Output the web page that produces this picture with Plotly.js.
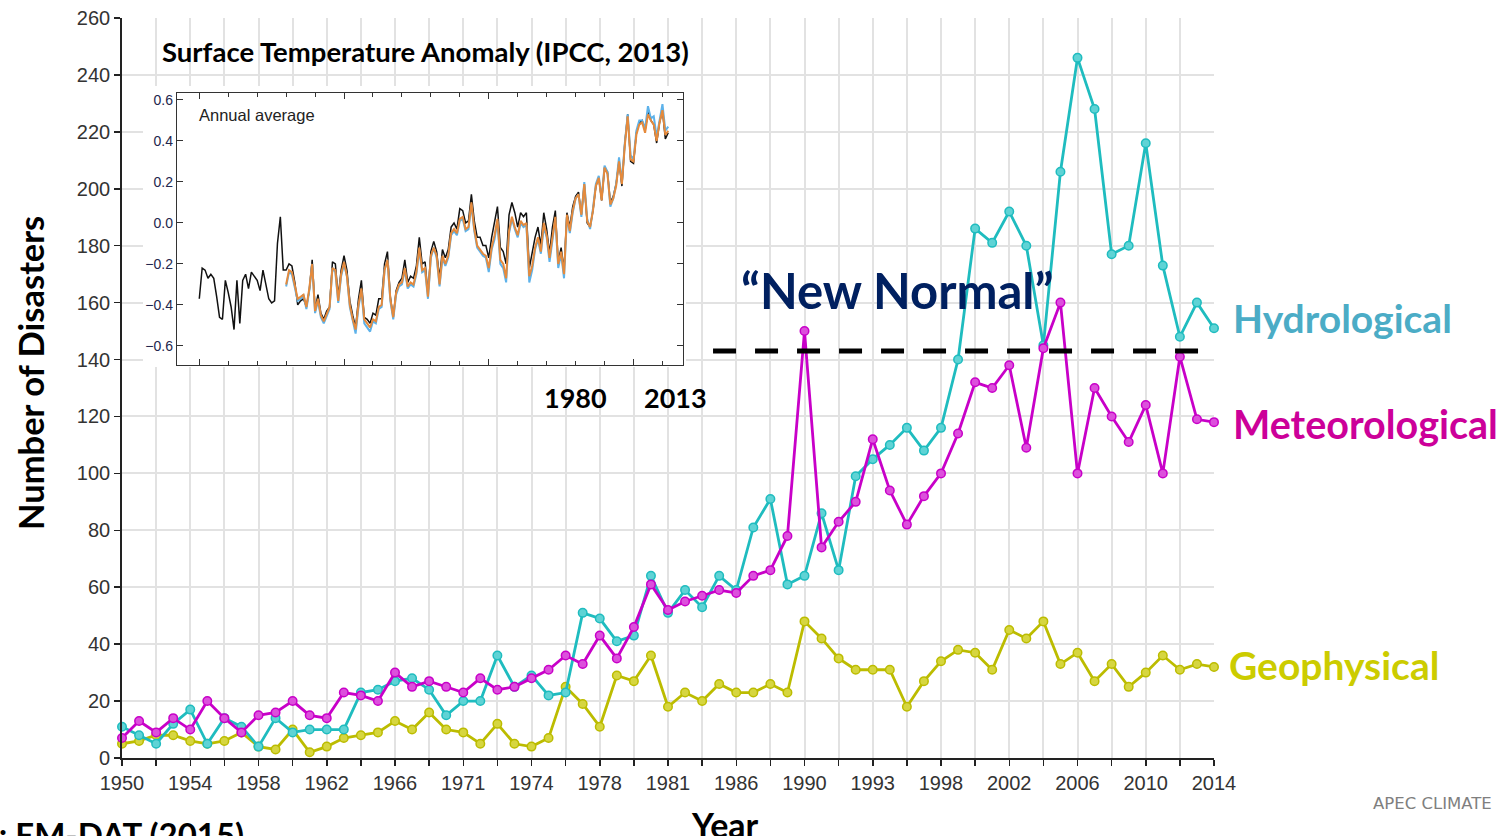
<!DOCTYPE html>
<html>
<head>
<meta charset="utf-8">
<script src="https://cdn.plot.ly/plotly-3.0.1.min.js"></script>
<style>html,body{margin:0;padding:0;background:#fff;}#chart{width:1509px;height:836px;}</style>
</head>
<body>
<div id="chart"></div>
<script>
// ---------------- Main chart data (EM-DAT disaster counts) ----------------
const xTickLabels = ['1950','1954','1958','1962','1966','1971','1974','1978','1981','1986','1990','1993','1998','2002','2006','2010','2014'];

const hydrological = [11,8,5,12,17,5,14,11,4,14,9,10,10,10,23,24,27,28,24,15,20,20,36,25,29,22,23,51,49,41,43,64,51,59,53,64,59,81,91,61,64,86,66,99,105,110,116,108,116,140,186,181,192,180,145,206,246,228,177,180,216,173,148,160,151];
const meteorological = [7,13,9,14,10,20,14,9,15,16,20,15,14,23,22,20,30,25,27,25,23,28,24,25,28,31,36,33,43,35,46,61,52,55,57,59,58,64,66,78,150,74,83,90,112,94,82,92,100,114,132,130,138,109,144,160,100,130,120,111,124,100,141,119,118];
const geophysical = [5,6,8,8,6,5,6,9,4,3,10,2,4,7,8,9,13,10,16,10,9,5,12,5,4,7,25,19,11,29,27,36,18,23,20,26,23,23,26,23,48,42,35,31,31,31,18,27,34,38,37,31,45,42,48,33,37,27,33,25,30,36,31,33,32];

const newNormalLevel = 143;

// ---------------- Inset data (surface temperature anomaly, deg C) ----------------
const insetBlackStart = 1850;
const insetBlack = [
 -0.37,-0.22,-0.23,-0.27,-0.25,-0.27,-0.36,-0.46,-0.47,-0.28,
 -0.34,-0.41,-0.52,-0.28,-0.49,-0.28,-0.25,-0.32,-0.24,-0.26,
 -0.28,-0.33,-0.23,-0.30,-0.37,-0.39,-0.38,-0.10,0.03,-0.23,
 -0.23,-0.20,-0.21,-0.29,-0.40,-0.38,-0.37,-0.41,-0.33,-0.18,
 -0.42,-0.35,-0.44,-0.47,-0.43,-0.41,-0.19,-0.20,-0.36,-0.23,
 -0.16,-0.23,-0.38,-0.45,-0.51,-0.37,-0.28,-0.46,-0.47,-0.49,
 -0.44,-0.45,-0.37,-0.37,-0.20,-0.14,-0.36,-0.46,-0.33,-0.29,
 -0.27,-0.18,-0.29,-0.26,-0.27,-0.21,-0.07,-0.20,-0.19,-0.35,
 -0.14,-0.09,-0.14,-0.27,-0.13,-0.17,-0.13,-0.02,0.00,-0.03,
 0.07,0.06,0.00,0.01,0.14,0.01,-0.07,-0.07,-0.11,-0.11,
 -0.17,-0.07,0.01,0.08,-0.12,-0.14,-0.20,0.04,0.10,0.05,
 -0.02,0.05,0.03,0.05,-0.22,-0.14,-0.07,-0.02,-0.11,0.05,
 -0.03,-0.15,-0.02,0.06,-0.19,-0.12,-0.23,0.05,-0.02,0.08,
 0.13,0.15,0.04,0.19,0.00,-0.02,0.06,0.18,0.22,0.11,
 0.27,0.25,0.10,0.13,0.19,0.30,0.18,0.39,0.53,0.30,
 0.29,0.44,0.49,0.50,0.45,0.54,0.50,0.48,0.39,0.49,
 0.55,0.41,0.44];

const insetColorStart = 1880;
const insetOrange = [
 -0.30,-0.23,-0.24,-0.31,-0.37,-0.36,-0.35,-0.41,-0.32,-0.20,
 -0.43,-0.37,-0.45,-0.48,-0.44,-0.41,-0.22,-0.23,-0.38,-0.25,
 -0.19,-0.26,-0.40,-0.47,-0.52,-0.40,-0.32,-0.47,-0.49,-0.51,
 -0.47,-0.48,-0.41,-0.40,-0.23,-0.18,-0.37,-0.46,-0.34,-0.30,
 -0.29,-0.22,-0.31,-0.29,-0.30,-0.24,-0.12,-0.23,-0.22,-0.36,
 -0.16,-0.12,-0.16,-0.30,-0.16,-0.20,-0.16,-0.05,-0.03,-0.05,
 0.02,0.03,-0.03,-0.02,0.10,-0.03,-0.11,-0.13,-0.15,-0.16,
 -0.22,-0.12,-0.06,0.02,-0.18,-0.20,-0.27,-0.04,0.03,-0.02,
 -0.06,0.01,-0.01,0.00,-0.26,-0.21,-0.12,-0.07,-0.14,0.00,
 -0.06,-0.17,-0.08,0.03,-0.20,-0.14,-0.25,0.04,-0.04,0.06,
 0.12,0.14,0.04,0.19,0.01,-0.02,0.06,0.18,0.22,0.11,
 0.27,0.24,0.09,0.12,0.18,0.30,0.19,0.38,0.52,0.31,
 0.30,0.43,0.48,0.49,0.44,0.53,0.50,0.48,0.40,0.49,
 0.55,0.43,0.45];
const insetBlue = [
 -0.31,-0.24,-0.25,-0.32,-0.38,-0.37,-0.35,-0.42,-0.33,-0.20,
 -0.44,-0.38,-0.46,-0.49,-0.45,-0.42,-0.22,-0.24,-0.39,-0.26,
 -0.20,-0.26,-0.41,-0.48,-0.54,-0.41,-0.33,-0.49,-0.51,-0.53,
 -0.48,-0.49,-0.42,-0.41,-0.23,-0.18,-0.38,-0.47,-0.35,-0.31,
 -0.30,-0.23,-0.32,-0.30,-0.31,-0.25,-0.13,-0.24,-0.23,-0.37,
 -0.17,-0.12,-0.17,-0.31,-0.17,-0.21,-0.17,-0.06,-0.04,-0.06,
 0.01,0.02,-0.04,-0.03,0.09,-0.04,-0.12,-0.14,-0.16,-0.17,
 -0.24,-0.13,-0.08,0.01,-0.20,-0.22,-0.29,-0.05,0.02,-0.03,
 -0.07,0.00,-0.02,-0.01,-0.29,-0.23,-0.13,-0.08,-0.15,-0.02,
 -0.07,-0.19,-0.09,0.02,-0.22,-0.15,-0.27,0.03,-0.05,0.05,
 0.12,0.14,0.03,0.20,0.02,-0.03,0.07,0.19,0.23,0.12,
 0.28,0.25,0.08,0.12,0.19,0.32,0.20,0.39,0.53,0.33,
 0.31,0.45,0.50,0.50,0.46,0.57,0.51,0.52,0.42,0.51,
 0.58,0.45,0.47];

// ---------------- Build ----------------
const idx = hydrological.map((_, i) => i);
const majorTickVals = xTickLabels.map((_, k) => k * 4);
const minorTickVals = majorTickVals.slice(0, -1).map(v => v + 2);
const yearsFrom = (start, arr) => arr.map((_, i) => start + i);

const HYD = '#1fbcbf', MET = '#c800c8', GEO = '#bcbc00';
function series(y, color, fill) {
  return {
    x: idx, y: y, type: 'scatter', mode: 'lines+markers', xaxis: 'x', yaxis: 'y',
    cliponaxis: false, hoverinfo: 'skip', showlegend: false,
    line: {color: color, width: 2.8},
    marker: {size: 8.5, color: fill, line: {color: color, width: 1.5}}
  };
}

const traces = [
  series(geophysical, GEO, '#d6d640'),
  series(hydrological, HYD, '#5fd3d5'),
  series(meteorological, MET, '#dc50dc'),
  // white backing panel for the inset (its own overlapping subplot)
  {x: [0.5], y: [0.5], xaxis: 'x2', yaxis: 'y2', type: 'scatter', mode: 'markers',
   marker: {opacity: 0}, hoverinfo: 'skip', showlegend: false},
  {x: yearsFrom(insetBlackStart, insetBlack), y: insetBlack, xaxis: 'x3', yaxis: 'y3', type: 'scatter', mode: 'lines',
   line: {color: '#111111', width: 1.5}, hoverinfo: 'skip', showlegend: false},
  {x: yearsFrom(insetColorStart, insetBlue), y: insetBlue, xaxis: 'x3', yaxis: 'y3', type: 'scatter', mode: 'lines',
   line: {color: '#5db2ea', width: 2}, hoverinfo: 'skip', showlegend: false},
  {x: yearsFrom(insetColorStart, insetOrange), y: insetOrange, xaxis: 'x3', yaxis: 'y3', type: 'scatter', mode: 'lines',
   line: {color: '#e58a3c', width: 2}, hoverinfo: 'skip', showlegend: false}
];

const W = 1509, H = 836, L = 122, R = 295, T = 18, B = 78;
const pw = W - L - R, ph = H - T - B;
const px = X => (X - L) / pw;
const py = Y => (H - B - Y) / ph;

const boldFont = 'Lato, "Noto Sans", sans-serif';
function note(text, X, Y, size, color, opts) {
  return Object.assign({
    text: text, xref: 'paper', yref: 'paper', x: px(X), y: py(Y),
    xanchor: 'center', yanchor: 'middle', showarrow: false,
    font: {family: boldFont, size: size, color: color, weight: 'bold'}
  }, opts || {});
}

const layout = {
  width: W, height: H,
  margin: {l: L, r: R, t: T, b: B, pad: 0},
  paper_bgcolor: '#ffffff', plot_bgcolor: '#ffffff',
  showlegend: false,
  xaxis: {
    domain: [0, 1], range: [0, 64], fixedrange: true,
    tickmode: 'array', tickvals: majorTickVals, ticktext: xTickLabels,
    ticks: 'outside', ticklen: 6, tickwidth: 1.5, tickcolor: '#222',
    showline: true, linecolor: '#222', linewidth: 1.8,
    showgrid: true, gridcolor: '#e2e2e2', gridwidth: 2,
    zeroline: false,
    tickfont: {family: '"Liberation Sans", Arial, sans-serif', size: 20, color: '#333'},
    minor: {tickmode: 'array', tickvals: minorTickVals, ticks: 'outside', ticklen: 6, tickwidth: 1.5, tickcolor: '#222',
            showgrid: true, gridcolor: '#e2e2e2', gridwidth: 2}
  },
  yaxis: {
    domain: [0, 1], range: [0, 260], fixedrange: true,
    tickmode: 'linear', tick0: 0, dtick: 20,
    ticks: 'outside', ticklen: 6, tickwidth: 1.5, tickcolor: '#222',
    showline: true, linecolor: '#222', linewidth: 1.8,
    showgrid: true, gridcolor: '#e2e2e2', gridwidth: 2, zeroline: false,
    tickfont: {family: '"Liberation Sans", Arial, sans-serif', size: 20, color: '#333'}
  },
  xaxis2: {domain: [px(143), px(686)], range: [0, 1], visible: false, anchor: 'y2', fixedrange: true},
  yaxis2: {domain: [py(367), py(86)], range: [0, 1], visible: false, anchor: 'x2', fixedrange: true},
  xaxis3: {
    domain: [px(177), px(683)], range: [1842.3, 2017.1], anchor: 'y3', fixedrange: true,
    showline: true, mirror: 'ticks', linecolor: '#333', linewidth: 1.2,
    ticks: 'inside', tickmode: 'linear', tick0: 1850, dtick: 50, ticklen: 6, tickcolor: '#333', tickwidth: 1,
    minor: {tickmode: 'linear', tick0: 1850, dtick: 10, ticks: 'inside', ticklen: 4, tickcolor: '#333', tickwidth: 1, showgrid: false},
    showticklabels: false, showgrid: false, zeroline: false
  },
  yaxis3: {
    domain: [py(365), py(93)], range: [-0.693, 0.634], anchor: 'x3', fixedrange: true,
    showline: true, mirror: 'ticks', linecolor: '#333', linewidth: 1.2,
    ticks: 'inside', tickmode: 'linear', tick0: 0, dtick: 0.2, ticklen: 6, tickcolor: '#333', tickwidth: 1,
    tickformat: '.1f', showgrid: false, zeroline: false,
    tickfont: {family: '"Liberation Sans", Arial, sans-serif', size: 14, color: '#23264d'}
  },
  shapes: [
    {type: 'line', xref: 'x', yref: 'y', x0: 34.64, x1: 63.13, y0: newNormalLevel, y1: newNormalLevel,
     line: {color: '#000000', width: 5, dash: '23px,19px'}, layer: 'above'}
  ],
  annotations: [
    note('Surface Temperature Anomaly (IPCC, 2013)', 425.5, 52, 27.5, '#000'),
    note('Annual average', 197, 115, 16.5, '#222', {xanchor: 'left',
      font: {family: '"Liberation Sans", Arial, sans-serif', size: 16.5, color: '#222'}}),
    note('1980', 575, 397, 27, '#000'),
    note('2013', 675, 397, 27, '#000'),
    note('\u201CNew Normal\u201D', 897, 290, 49, '#002060'),
    note('Hydrological', 1231, 318, 39, '#4bacc6', {xanchor: 'left'}),
    note('Meteorological', 1231, 424, 39.5, '#cc0099', {xanchor: 'left'}),
    note('Geophysical', 1227, 665, 39, '#cccc00', {xanchor: 'left'}),
    note('Number of Disasters', 30, 373, 34.5, '#000', {textangle: -90}),
    note('Year', 725, 824, 34, '#000'),
    note('Source: EM-DAT (2015)', 246, 834, 33, '#000', {xanchor: 'right'}),
    note('APEC CLIMATE', 1432, 803, 16.5, '#7f7f7f', {
      font: {family: '"DejaVu Sans", sans-serif', size: 16.5, color: '#7f7f7f'}})
  ]
};

Plotly.newPlot('chart', traces, layout, {staticPlot: true, displayModeBar: false});
</script>
</body>
</html>
